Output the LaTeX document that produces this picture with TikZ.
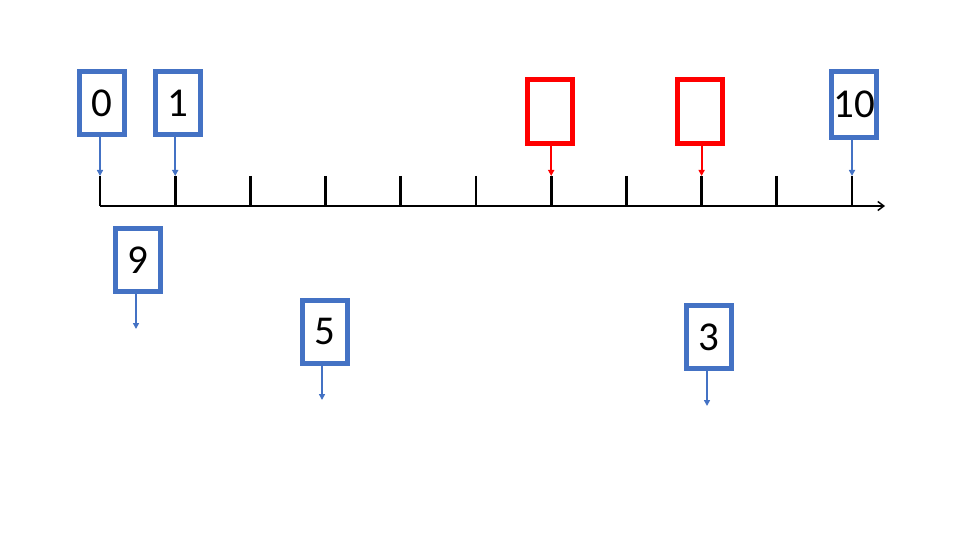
\documentclass[tikz,border=0pt]{standalone}
\usepackage{fontspec}
\setmainfont{Carlito}
\usetikzlibrary{arrows.meta}
\definecolor{boxblue}{HTML}{4472C4}
\tikzset{
  numbox/.style={draw=boxblue, line width=5pt, minimum width=45pt, minimum height=63pt,
    inner sep=0pt, font=\fontsize{41}{41}\selectfont},
  gapbox/.style={numbox, draw=red, minimum height=64pt},
  pointer/.style={-{Triangle[length=6pt,width=6pt]}, draw=boxblue, line width=1.5pt},
  redpointer/.style={pointer, draw=red, line width=2pt},
}

\begin{document}
\begin{tikzpicture}[x=1pt,y=-1pt]
  \useasboundingbox (0,0) rectangle (960,540);

  % number line
  \coordinate (axl) at (100,206);
  \coordinate (axr) at (885,206);
  \draw[line width=2.8pt, -{Straight Barb[length=6pt,width=9pt,line width=1.5pt]}] (axl) -- (axr);
  \foreach \i in {0,...,10}{
    \coordinate (tick\i) at (100+75.2*\i,176);
    \draw[line width=2.8pt] (tick\i) -- (100+75.2*\i,206);
  }

  % numbers pointing at the line
  \node[numbox] (b0) at (102,103) {0};
  \node[numbox] (b1) at (178,103) {1};
  \node[numbox, minimum height=66pt] (b10) at (854,104.5) {10};
  \node[gapbox] (gap1) at (550,111.5) {};
  \node[gapbox] (gap2) at (700,111.5) {};

  \draw[pointer] (b0.south -| tick0) -- (tick0);
  \draw[pointer] (b1.south -| tick1) -- (tick1);
  \draw[pointer] (b10.south -| tick10) -- (tick10);
  \draw[redpointer] (gap1.south -| tick6) -- (tick6);
  \draw[redpointer] (gap2.south -| tick8) -- (tick8);

  % numbers still to place
  \node[numbox] (b9) at (138,260) {9};
  \node[numbox] (b5) at (325,331.5) {5};
  \node[numbox] (b3) at (709,337) {3};
  \coordinate (e9) at (136,329);
  \coordinate (e5) at (322,400);
  \coordinate (e3) at (707,406);

  \draw[pointer] (b9.south -| e9) -- (e9);
  \draw[pointer] (b5.south -| e5) -- (e5);
  \draw[pointer] (b3.south -| e3) -- (e3);
\end{tikzpicture}
\end{document}
